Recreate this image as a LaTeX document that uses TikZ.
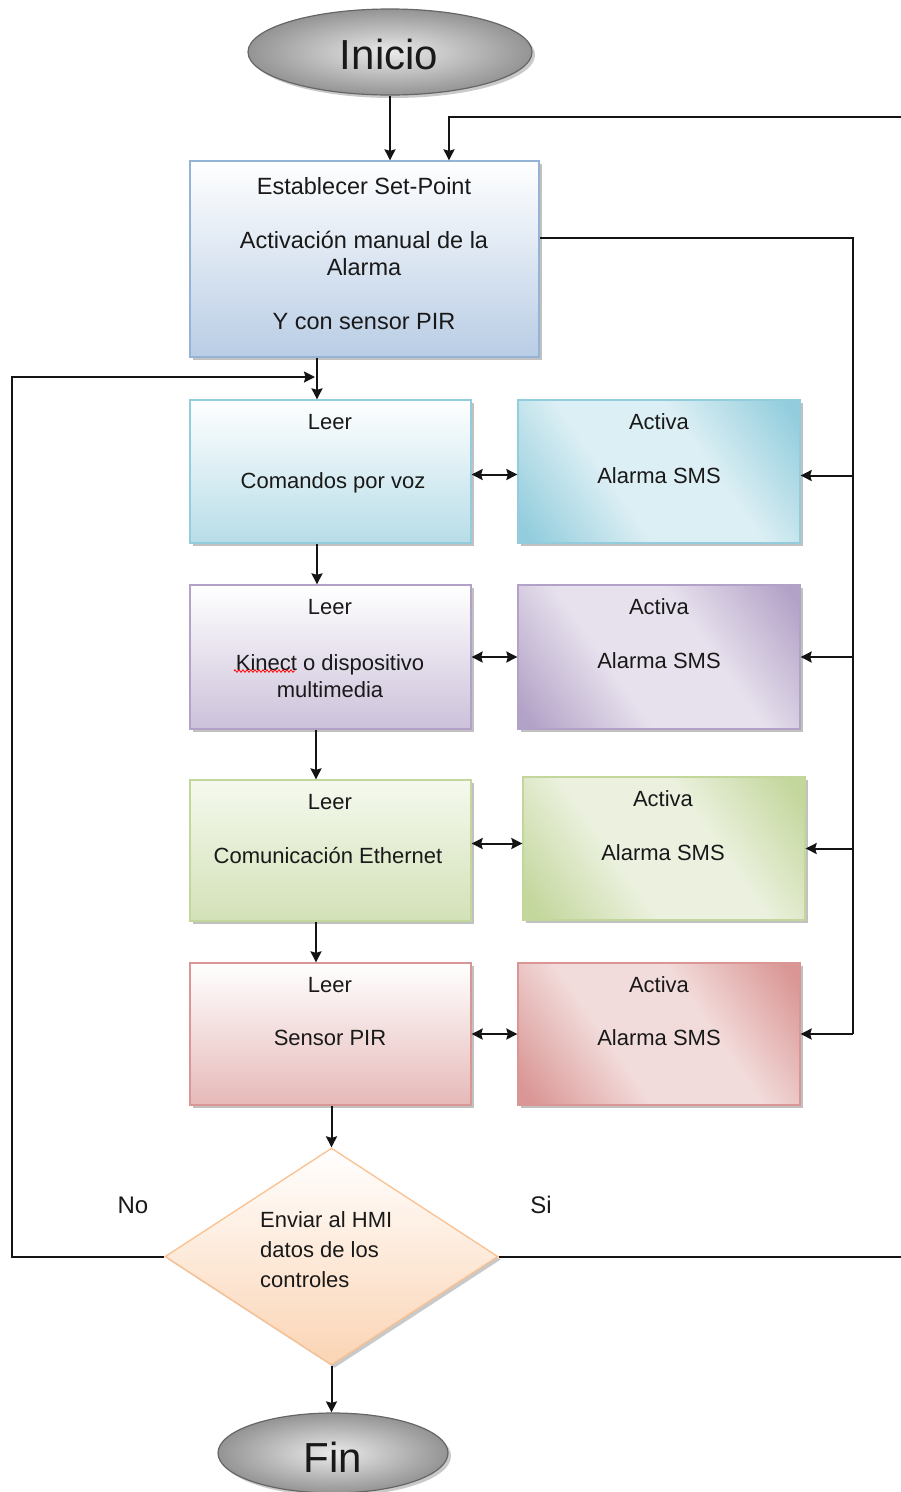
\documentclass[tikz,border=0pt]{standalone}
\usepackage{fontspec}
\setmainfont{Liberation Sans}
\usetikzlibrary{shapes.geometric,arrows.meta,shadows,calc,decorations.pathmorphing}

\definecolor{blueB}{HTML}{B9CDE5}
\definecolor{blueE}{HTML}{95B3D7}
\definecolor{tealD}{HTML}{93CDDD}
\definecolor{tealL}{HTML}{DCEFF4}
\definecolor{tealB}{HTML}{B7DDE8}
\definecolor{purpD}{HTML}{B3A2C7}
\definecolor{purpL}{HTML}{E7E1ED}
\definecolor{purpB}{HTML}{CCC1DA}
\definecolor{greenD}{HTML}{C3D69B}
\definecolor{greenL}{HTML}{EBF1DE}
\definecolor{greenB}{HTML}{D3E1B7}
\definecolor{greenT}{HTML}{F5F9EE}
\definecolor{redD}{HTML}{D99694}
\definecolor{redL}{HTML}{F2DCDB}
\definecolor{redB}{HTML}{E6B9B8}
\definecolor{peachB}{HTML}{FBD4B4}
\definecolor{peachE}{HTML}{FAC090}

\pgfdeclarehorizontalshading{tealdiag}{100bp}{color(0bp)=(tealD); color(18bp)=(tealD); color(40bp)=(tealL); color(60bp)=(tealL); color(82bp)=(tealD); color(100bp)=(tealD)}
\pgfdeclarehorizontalshading{purpdiag}{100bp}{color(0bp)=(purpD); color(18bp)=(purpD); color(40bp)=(purpL); color(60bp)=(purpL); color(82bp)=(purpD); color(100bp)=(purpD)}
\pgfdeclarehorizontalshading{greendiag}{100bp}{color(0bp)=(greenD); color(18bp)=(greenD); color(40bp)=(greenL); color(60bp)=(greenL); color(82bp)=(greenD); color(100bp)=(greenD)}
\pgfdeclarehorizontalshading{reddiag}{100bp}{color(0bp)=(redD); color(18bp)=(redD); color(40bp)=(redL); color(60bp)=(redL); color(82bp)=(redD); color(100bp)=(redD)}

\tikzset{
  conn/.style={line width=2pt, black!92},
  tip/.style={},
  arr/.style={conn, -{Stealth[length=11pt,width=11pt,inset=1.5pt]}},
  darr/.style={conn, {Stealth[length=11pt,width=11pt,inset=1.5pt]}-{Stealth[length=11pt,width=11pt,inset=1.5pt]}},
  box/.style={rectangle, inner sep=0pt, line width=1.3pt,
    drop shadow={shadow xshift=3pt, shadow yshift=-3pt, opacity=0.4, fill=black!60}},
  leerbox/.style={box, minimum width=281pt},
  activabox/.style={box, minimum width=282pt, shading angle=35},
  term/.style={ellipse, inner sep=0pt, draw=black!60, line width=1.2pt,
    inner color=black!8, outer color=black!42,
    drop shadow={shadow xshift=3pt, shadow yshift=-3pt, opacity=0.35, fill=black!60}},
  txt/.style={inner sep=0pt, anchor=mid, font=\fontsize{22}{27}\selectfont, text=black!90},
  bigtxt/.style={inner sep=0pt, font=\fontsize{42}{46}\selectfont, text=black!90},
}

\begin{document}
\begin{tikzpicture}[x=1pt, y=-1pt]
\useasboundingbox (0,0) rectangle (901,1492);
\fill[white] (0,0) rectangle (901,1492);

% terminals
\node[term, minimum width=284pt, minimum height=86pt] (inicio) at (390,52) {};
\node[bigtxt] (inicioT) at (389,54) {Inicio};
\node[term, minimum width=230pt, minimum height=80pt] (fin) at (333,1453) {};
\node[bigtxt] (finT) at (333,1457) {Fin};

% first box
\node[box, minimum width=349pt, minimum height=196pt, draw=blueE, top color=white, bottom color=blueB] (box1) at (364.5,259) {};
\node[txt, anchor=center, align=center, font=\fontsize{23.5}{27}\selectfont] (box1T) at (364,254)
  {Establecer Set-Point\\[27pt]Activación manual de la\\Alarma\\[27pt]Y con sensor PIR};

% row 1
\node[leerbox, minimum height=143pt, draw=tealD, top color=white, bottom color=tealB] (l1) at (330.5,471.5) {};
\node[txt] (l1a) at (330,427) {Leer};
\node[txt] (l1b) at (333,486) {Comandos por voz};
\node[activabox, minimum height=143pt, draw=tealD, shading=tealdiag] (a1) at (659,471.5) {};
\node[txt] (a1a) at (659,427) {Activa};
\node[txt] (a1b) at (659,481) {Alarma SMS};

% row 2
\node[leerbox, minimum height=144pt, draw=purpD, top color=white, bottom color=purpB] (l2) at (330.5,657) {};
\node[txt] (l2a) at (330,612) {Leer};
\node[txt, anchor=center, align=center] (l2b) at (330,676) {Kinect o dispositivo\\multimedia};
\node[activabox, minimum height=144pt, draw=purpD, shading=purpdiag] (a2) at (659,657) {};
\node[txt] (a2a) at (659,612) {Activa};
\node[txt] (a2b) at (659,666) {Alarma SMS};
\draw[red, line width=0.8pt, decorate, decoration={zigzag, segment length=4pt, amplitude=1.3pt}] (234,671) -- (295,671);

% row 3
\node[leerbox, minimum height=141pt, draw=greenD, top color=greenT, bottom color=greenB] (l3) at (330.5,850.5) {};
\node[txt] (l3a) at (330,807) {Leer};
\node[txt] (l3b) at (328,861) {Comunicación Ethernet};
\node[activabox, minimum height=143pt, draw=greenD, shading=greendiag] (a3) at (664,848.5) {};
\node[txt] (a3a) at (663,804) {Activa};
\node[txt] (a3b) at (663,858) {Alarma SMS};

% row 4
\node[leerbox, minimum height=142pt, draw=redD, top color=white, bottom color=redB] (l4) at (330.5,1034) {};
\node[txt] (l4a) at (330,990) {Leer};
\node[txt] (l4b) at (330,1043) {Sensor PIR};
\node[activabox, minimum height=142pt, draw=redD, shading=reddiag] (a4) at (659,1034) {};
\node[txt] (a4a) at (659,990) {Activa};
\node[txt] (a4b) at (659,1043) {Alarma SMS};

% decision
\node[diamond, inner sep=0pt, minimum width=333pt, minimum height=217pt, line width=1.3pt, draw=peachE,
  top color=white, bottom color=peachB,
  drop shadow={shadow xshift=3pt, shadow yshift=-3pt, opacity=0.35, fill=black!60}] (dia) at (331.5,1256.5) {};
\node[txt, anchor=west, align=left, font=\fontsize{22}{30}\selectfont] (diaT) at (260,1250)
  {Enviar al HMI\\datos de los\\controles};
\node[txt, font=\fontsize{24}{28}\selectfont] (no) at (133,1211) {No};
\node[txt, font=\fontsize{24}{28}\selectfont] (si) at (541,1211) {Si};

% helper coordinates
\coordinate (busTop) at (853,238);
\coordinate (loopTR) at (915,117);
\coordinate (loopTL) at (449,117);
\coordinate (noL) at (12,1256.5);
\coordinate (noT) at (12,377);

% main flow
\draw[arr] (inicio.south) -- (inicio.south |- box1.north);
\draw[arr] (box1.south -| 317,0) -- (l1.north -| 317,0);
\draw[arr] (l1.south -| 317,0) -- (l2.north -| 317,0);
\draw[arr] (l2.south -| 316,0) -- (l3.north -| 316,0);
\draw[arr] (l3.south -| 316,0) -- (l4.north -| 316,0);
\draw[arr] (l4.south -| dia.north) -- (dia.north);
\draw[arr] (dia.south) -- (dia.south |- fin.north);

% leer <-> activa
\draw[darr] ([yshift=-3pt]l1.east) -- ([yshift=-3pt]l1.east -| a1.west);
\draw[darr] (l2.east) -- (l2.east -| a2.west);
\draw[darr] ([yshift=7pt]l3.east) -- ([yshift=7pt]l3.east -| a3.west);
\draw[darr] (l4.east) -- (l4.east -| a4.west);

% bus from box1 to activa boxes
\draw[conn] ([yshift=21pt]box1.east) -- (busTop) -- (busTop |- a4.east);
\draw[arr] ([yshift=-4pt]busTop |- a1.east) -- ([yshift=-4pt]a1.east);
\draw[arr] (busTop |- a2.east) -- (a2.east);
\draw[arr] (busTop |- a3.east) -- (a3.east);
\draw[arr] (busTop |- a4.east) -- (a4.east);

% No loop
\draw[arr] (dia.west) -- (noL) -- (noT) -- (noT -| 315,0);

% Si loop
\draw[arr] (dia.east) -- (dia.east -| loopTR) -- (loopTR) -- (loopTL) -- (loopTL |- box1.north);
\end{tikzpicture}
\end{document}
